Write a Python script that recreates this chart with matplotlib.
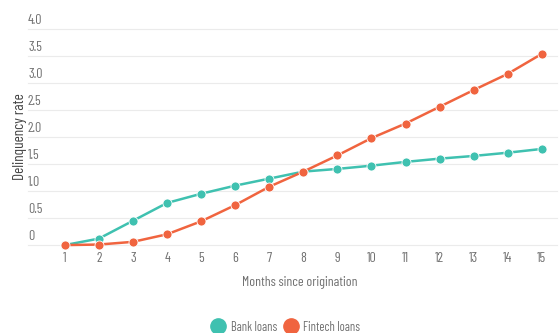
import matplotlib
matplotlib.use("Agg")
import matplotlib.pyplot as plt
from matplotlib.lines import Line2D
from matplotlib.transforms import blended_transform_factory

months = list(range(1, 16))
bank_loans = [0.0, 0.12, 0.45, 0.78, 0.95, 1.10, 1.23, 1.36, 1.41, 1.47, 1.54, 1.60, 1.65, 1.71, 1.78]
fintech_loans = [0.0, 0.01, 0.06, 0.20, 0.44, 0.74, 1.08, 1.36, 1.66, 1.98, 2.25, 2.56, 2.87, 3.17, 3.54]
y_ticks = [0, 0.5, 1.0, 1.5, 2.0, 2.5, 3.0, 3.5, 4.0]
y_tick_labels = ["0", "0.5", "1.0", "1.5", "2.0", "2.5", "3.0", "3.5", "4.0"]
series_names = ["Bank loans", "Fintech loans"]
colors = ["#3fc1b0", "#f0643f"]

plt.rcParams['font.family'] = ['Barlow Condensed', 'Barlow Semi Condensed', 'DejaVu Sans']
plt.rcParams['font.weight'] = 'normal'
text_color = "#707070"
fs = 10

fig = plt.figure(figsize=(5.6, 3.33), dpi=100)
ax = fig.add_axes([0.05, 0.264, 0.945, 0.649])

for vals, col, name in zip([bank_loans, fintech_loans], colors, series_names):
    ax.plot(months, vals, color=col, lw=1.8, marker='o', ms=6.5,
            markeredgecolor='white', markeredgewidth=0.6, clip_on=False, zorder=3, label=name)

ax.set_xlim(-0.08, 15.45)
ax.set_ylim(0, 4.0)
ax.set_yticks(y_ticks)
ax.set_yticklabels([])
ax.tick_params(axis='y', length=0)
ax.grid(axis='y', color='#ebebeb', lw=0.8, clip_on=False)
ax.set_axisbelow(True)
for s in ax.spines.values():
    s.set_visible(False)

trans = blended_transform_factory(ax.transAxes, ax.transData)
for v, lab in zip(y_ticks, y_tick_labels):
    ax.text(0.0, v + 0.04, lab, transform=trans, ha='left', va='bottom',
            fontsize=fs, color=text_color)

ax.set_xticks(months)
ax.set_xticklabels([str(m) for m in months], fontsize=fs, color=text_color)
ax.tick_params(axis='x', length=0, pad=5)
ax.set_xlabel("Months since origination", fontsize=10, color=text_color)
ax.xaxis.set_label_coords(0.513, -0.145)
ax.set_ylabel("Delinquency rate", fontsize=11, color='#444444')
ax.yaxis.set_label_coords(-0.001, 0.5)

handles = [Line2D([], [], ls='none', marker='o', ms=11, color=c) for c in colors]
fig.legend(handles, series_names, loc='center', bbox_to_anchor=(0.51, 0.018), ncol=2,
           frameon=False, fontsize=9, labelcolor=text_color, handletextpad=0.4,
           columnspacing=0.5, handlelength=1.2)

fig.savefig("out.png", dpi=100)
